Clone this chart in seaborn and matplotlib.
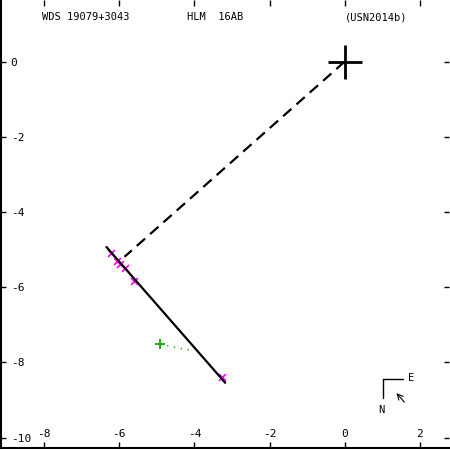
import matplotlib
matplotlib.use("Agg")
import matplotlib.pyplot as plt
import seaborn as sns
import pandas as pd

# measured positions (arcsec)
obs_x = [-6.21, -6.06, -5.97, -5.85, -5.60, -3.27]
obs_y = [-5.08, -5.30, -5.39, -5.50, -5.83, -8.39]
fit_x = [-6.34, -3.18]
fit_y = [-4.93, -8.54]
perp_x = [0.0, -5.86]
perp_y = [0.0, -5.19]
green_x = [-4.91, -4.08]
green_y = [-7.52, -7.68]
xticks = [-8, -6, -4, -2, 0, 2]
yticks = [0, -2, -4, -6, -8, -10]
title_left = "WDS 19079+3043"
title_mid = "HLM  16AB"
title_right = "(USN2014b)"

sns.set_style("white")
plt.rcParams["font.family"] = ["DejaVu Sans Mono"]
plt.rcParams["axes.unicode_minus"] = False
plt.rcParams["text.color"] = "black"
plt.rcParams["xtick.color"] = "black"
plt.rcParams["ytick.color"] = "black"

fig = plt.figure(figsize=(4.5, 4.5), dpi=100)
ax = fig.add_axes([0.002, 0.004, 0.996, 0.996])

obs = pd.DataFrame({"x": obs_x, "y": obs_y})
sns.lineplot(x=fit_x, y=fit_y, color="black", lw=1.6, ax=ax, sort=False)
sns.lineplot(x=perp_x, y=perp_y, color="black", lw=1.6, ax=ax, sort=False,
             linestyle=(0, (5, 3)))
sns.scatterplot(data=obs, x="x", y="y", marker="x", color="magenta",
                s=25, linewidth=1.2, ax=ax)
sns.lineplot(x=green_x, y=green_y, color="#00aa00", lw=1.0, ax=ax,
             sort=False, linestyle=(0, (1, 4)))
ax.plot(green_x[:1], green_y[:1], marker="+", color="#00aa00", ms=7, mew=1.3)
ax.plot([0], [0], marker="+", color="black", ms=25, mew=2)

ax.set_xlim(-9.15, 2.78)
ax.set_ylim(-10.28, 1.64)
ax.set_xticks(xticks)
ax.set_yticks(yticks)
ax.set_xlabel("")
ax.set_ylabel("")
ax.tick_params(axis="x", direction="in", length=4, width=1, top=True,
               bottom=True, pad=-14, labelsize=8, colors="black")
ax.tick_params(axis="y", direction="in", length=3.5, width=1, right=True,
               left=True, pad=-7, labelsize=8, colors="black")
for lab in ax.get_yticklabels():
    lab.set_horizontalalignment("left")
for side in ["top", "right"]:
    ax.spines[side].set_visible(False)
for side in ["left", "bottom"]:
    ax.spines[side].set_linewidth(1.5)
    ax.spines[side].set_color("black")

ax.text(-8.05, 1.18, title_left, fontsize=7.5, va="center")
ax.text(-4.2, 1.18, title_mid, fontsize=7.5, va="center")
ax.text(0.0, 1.18, title_right, fontsize=7.5, va="center")

# compass
ax.plot([1.03, 1.56], [-8.44, -8.44], color="black", lw=1)
ax.plot([1.03, 1.03], [-8.44, -8.94], color="black", lw=1)
ax.text(1.78, -8.41, "E", fontsize=7.5, ha="center", va="center")
ax.text(0.98, -9.26, "N", fontsize=7.5, ha="center", va="center")
ax.annotate("", xy=(1.33, -8.76), xytext=(1.64, -9.11),
            arrowprops=dict(arrowstyle="->", color="black", lw=0.8))

fig.savefig("out.png", dpi=100)
